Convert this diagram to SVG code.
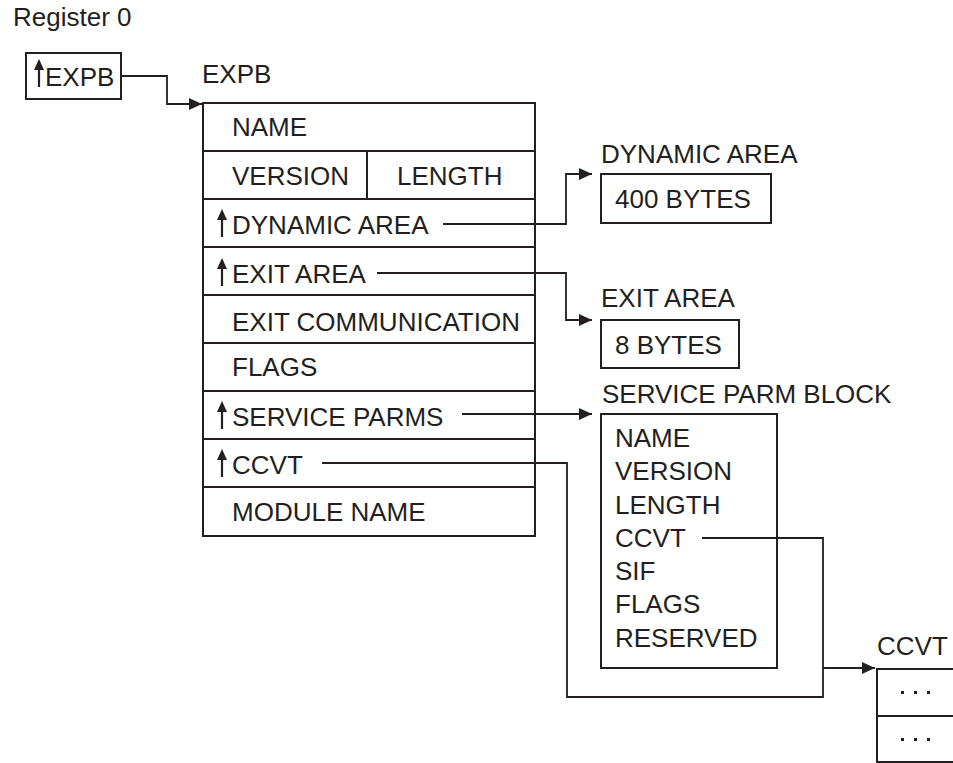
<svg xmlns="http://www.w3.org/2000/svg" width="953" height="763" viewBox="0 0 953 763">
<defs>
<style>
text{font-family:"Liberation Sans",Arial,sans-serif;font-size:26px;fill:#231f20}
.box{fill:none;stroke:#231f20;stroke-width:2}
.ln{fill:none;stroke:#231f20;stroke-width:1.8}
.dot{fill:#231f20}
</style>
<marker id="ah" viewBox="0 0 13 12" refX="13" refY="6" markerWidth="13" markerHeight="12" markerUnits="userSpaceOnUse" orient="auto">
<path d="M0,0 L13,6 L0,12 Z" fill="#231f20"/>
</marker>
<symbol id="up" overflow="visible">
<path d="M0,0 L5,11 L-5,11 Z" fill="#231f20"/>
<line x1="0" y1="9" x2="0" y2="28" stroke="#231f20" stroke-width="2.2"/>
</symbol>
</defs>
<rect width="953" height="763" fill="#fff"/>
<text x="13" y="26">Register 0</text>
<g id="ptr-expb">
<rect class="box" x="26" y="53" width="95" height="46"/>
<use href="#up" x="39" y="59"/>
<text x="45" y="86">EXPB</text>
</g>
<g id="expb">
<text x="202" y="83">EXPB</text>
<rect class="box" x="203" y="103" width="332" height="433"/>
<path class="box" d="M203,151H535M203,199H535M203,247H535M203,295H535M203,343H535M203,391H535M203,439H535M203,487H535M367,151V199"/>
<text x="232" y="136">NAME</text>
<text x="232" y="185">VERSION</text>
<text x="397" y="185">LENGTH</text>
<use href="#up" x="222" y="209"/>
<text x="232" y="234">DYNAMIC AREA</text>
<use href="#up" x="222" y="258"/>
<text x="232" y="283">EXIT AREA</text>
<text x="232" y="331">EXIT COMMUNICATION</text>
<text x="232" y="376">FLAGS</text>
<use href="#up" x="222" y="401"/>
<text x="232" y="426">SERVICE PARMS</text>
<use href="#up" x="222" y="449"/>
<text x="232" y="474">CCVT</text>
<text x="232" y="521">MODULE NAME</text>
</g>
<g id="dynamic-area">
<text x="601" y="163">DYNAMIC AREA</text>
<rect class="box" x="601" y="174" width="170" height="49"/>
<text x="615" y="208">400 BYTES</text>
</g>
<g id="exit-area">
<text x="601" y="307">EXIT AREA</text>
<rect class="box" x="601" y="320" width="138" height="48"/>
<text x="615" y="354">8 BYTES</text>
</g>
<g id="service-parm-block">
<text x="602" y="403">SERVICE PARM BLOCK</text>
<rect class="box" x="601" y="414" width="176" height="254"/>
<text x="615" y="447">NAME</text>
<text x="615" y="480">VERSION</text>
<text x="615" y="514">LENGTH</text>
<text x="615" y="547">CCVT</text>
<text x="615" y="580">SIF</text>
<text x="615" y="613">FLAGS</text>
<text x="615" y="647">RESERVED</text>
</g>
<g id="ccvt">
<text x="877" y="655">CCVT</text>
<rect class="box" x="877" y="669" width="90" height="93"/>
<path class="box" d="M877,716H953"/>
<rect class="dot" x="901" y="691" width="3" height="3"/>
<rect class="dot" x="914" y="691" width="3" height="3"/>
<rect class="dot" x="927" y="691" width="3" height="3"/>
<rect class="dot" x="901" y="738" width="3" height="3"/>
<rect class="dot" x="914" y="738" width="3" height="3"/>
<rect class="dot" x="927" y="738" width="3" height="3"/>
</g>
<g id="connectors">
<path class="ln" d="M121,76H167V104H202" marker-end="url(#ah)"/>
<path class="ln" d="M443,224H566V174H592" marker-end="url(#ah)"/>
<path class="ln" d="M377,273H566V320H592" marker-end="url(#ah)"/>
<path class="ln" d="M462,414H592" marker-end="url(#ah)"/>
<path class="ln" d="M702,538H823V668H875" marker-end="url(#ah)"/>
<path class="ln" d="M322,463H567V697H823V668"/>
</g>
</svg>
